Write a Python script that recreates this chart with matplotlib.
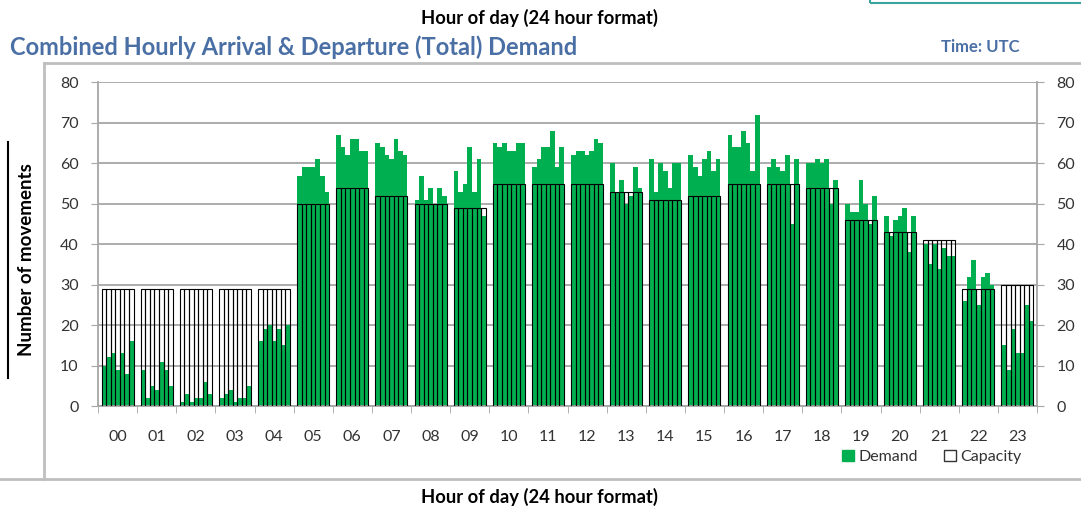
import numpy as np
import matplotlib
matplotlib.use("Agg")
import matplotlib.pyplot as plt
from matplotlib.lines import Line2D
from matplotlib.patches import Patch, Rectangle

plt.rcParams['font.family'] = ['Lato', 'DejaVu Sans']

hours = ['%02d' % h for h in range(24)]

# seven daily values per hour of the day
demand = [
    [10, 12, 13, 9, 13, 8, 16],
    [9, 2, 5, 4, 11, 9, 5],
    [1, 3, 1, 2, 2, 6, 3],
    [2, 3, 4, 1, 2, 2, 5],
    [16, 19, 20, 16, 19, 15, 20],
    [57, 59, 59, 59, 61, 57, 53],
    [67, 64, 62, 66, 66, 63, 63],
    [65, 64, 62, 61, 66, 63, 62],
    [51, 57, 51, 54, 50, 54, 52],
    [58, 53, 55, 64, 53, 61, 47],
    [65, 64, 65, 63, 63, 65, 65],
    [59, 61, 64, 64, 68, 59, 64],
    [62, 63, 63, 62, 63, 66, 65],
    [60, 53, 56, 50, 52, 59, 54],
    [61, 53, 60, 58, 54, 60, 60],
    [62, 59, 57, 61, 63, 58, 61],
    [67, 64, 64, 68, 65, 58, 72],
    [59, 61, 59, 58, 62, 45, 61],
    [60, 60, 61, 60, 61, 50, 56],
    [50, 48, 48, 56, 50, 45, 52],
    [47, 42, 46, 47, 49, 38, 47],
    [40, 35, 40, 34, 39, 37, 37],
    [26, 32, 36, 25, 32, 33, 30],
    [15, 9, 19, 13, 13, 25, 21],
]
capacity = [29, 29, 29, 29, 29, 50, 54, 52, 50, 49, 55, 55,
            55, 53, 51, 52, 55, 55, 54, 46, 43, 41, 29, 30]

green = '#00B050'
blue = '#4A6FA5'
grey = '#A6A6A6'
txt = '#333333'

W, H = 1081, 507
fig = plt.figure(figsize=(W / 100, H / 100), dpi=100)
ax = fig.add_axes([98 / W, 1 - 406 / H, 939 / W, 323.5 / H])

x = np.arange(len(hours))
n_days = len(demand[0])
bw = 32 / n_days / 39.125
for j in range(n_days):
    off = (j - (n_days - 1) / 2) * bw
    ax.bar(x + off, [d[j] for d in demand], width=bw, color=green, linewidth=0, zorder=2)
    ax.bar(x + off, capacity, width=bw, facecolor='none', edgecolor='black',
           linewidth=0.8, zorder=3)

ax.set_xlim(-0.5, 23.5)
ax.set_ylim(0, 80)
ax.set_yticks(range(0, 81, 10))
ax.set_xticks(x)
ax.set_xticklabels(hours)
ax.set_xticks(np.arange(-0.5, 24, 1), minor=True)
ax.yaxis.grid(True, color=grey, linewidth=1.3, zorder=0)
ax.set_axisbelow(True)

for s in ['left', 'right', 'bottom']:
    ax.spines[s].set_color(grey)
    ax.spines[s].set_linewidth(1.3)
ax.spines['top'].set_visible(False)

ax.tick_params(axis='y', which='both', left=True, right=True, labelleft=True,
               labelright=True, length=5, color=grey, labelsize=11.5,
               labelcolor=txt, pad=9)
ax.tick_params(axis='x', which='major', length=0, labelsize=11.5, labelcolor=txt, pad=17)
ax.tick_params(axis='x', which='minor', length=5, color=grey)

# titles and labels
fig.text(539 / W, 1 - 18 / H, 'Hour of day (24 hour format)', ha='center', va='center',
         fontsize=13.2, fontweight='bold', color='black')
fig.text(539 / W, 1 - 497 / H, 'Hour of day (24 hour format)', ha='center', va='center',
         fontsize=13.2, fontweight='bold', color='black')
fig.text(10 / W, 1 - 47 / H, 'Combined Hourly Arrival & Departure (Total) Demand',
         ha='left', va='center', fontsize=17, fontweight='bold', color=blue)
fig.text(1020 / W, 1 - 47 / H, 'Time: UTC', ha='right', va='center',
         fontsize=12, fontweight='bold', color=blue)
fig.text(27 / W, 1 - 260 / H, 'Number of movements', rotation=90, ha='center',
         va='center', fontsize=13.5, fontweight='bold', color='black')
fig.add_artist(Line2D([8 / W, 8 / W], [1 - 142 / H, 1 - 378 / H], color='black', linewidth=1.5))

# outer frame
fig.add_artist(Line2D([44 / W, 1], [1 - 63 / H, 1 - 63 / H], color='#BFBFBF', linewidth=2))
fig.add_artist(Line2D([44 / W, 44 / W], [1 - 63 / H, 1 - 479 / H], color='#BFBFBF', linewidth=2))
fig.add_artist(Line2D([0, 1], [1 - 479 / H, 1 - 479 / H], color='#BFBFBF', linewidth=2))
fig.add_artist(Rectangle((870 / W, 1 - 3 / H), 0.2, 0.1, transform=fig.transFigure,
                         facecolor='none', edgecolor='#3AA59E', linewidth=1.5))

handles = [Patch(facecolor=green, edgecolor=green, label='Demand'),
           Patch(facecolor='white', edgecolor='#333333', label='Capacity')]
fig.legend(handles=handles, loc='center', bbox_to_anchor=(932 / W, 1 - 457 / H),
           ncol=2, frameon=False, fontsize=11.5, handlelength=0.75, handleheight=0.75,
           handletextpad=0.3, columnspacing=1.6, labelcolor=txt)

fig.savefig('out.png', dpi=100)
